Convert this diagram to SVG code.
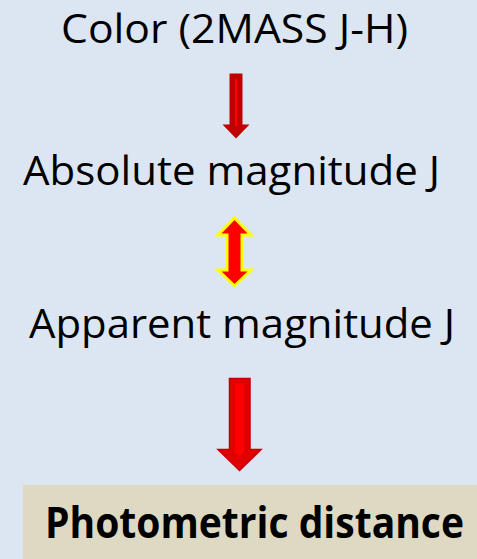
<svg xmlns="http://www.w3.org/2000/svg" width="477" height="559" viewBox="0 0 477 559">
<style>
.t{font-family:"Open Sans","Liberation Sans",sans-serif;font-size:40px;fill:#000}
.b{font-family:"Open Sans","Liberation Sans",sans-serif;font-size:43px;font-weight:bold;fill:#000}
</style>
<rect width="477" height="559" fill="#dce6f2"/>
<g id="color"><text class="t" x="61" y="43" textLength="347" lengthAdjust="spacingAndGlyphs">Color (2MASS J-H)</text></g>
<g id="absolute"><text class="t" x="23" y="185" textLength="417" lengthAdjust="spacingAndGlyphs">Absolute magnitude J</text></g>
<g id="apparent"><text class="t" x="29" y="338" textLength="426" lengthAdjust="spacingAndGlyphs">Apparent magnitude J</text></g>
<g id="distance">
<rect x="23" y="485" width="454" height="74" fill="#ddd9c3"/>
<text class="b" x="45" y="538" textLength="419" lengthAdjust="spacingAndGlyphs">Photometric distance</text>
</g>
<g id="connectors">
<polygon points="229.5,73.5 242.5,73.5 242.5,124.5 249.5,124.5 236,138.5 222.5,124.5 229.5,124.5" fill="#c00000"/>
<line x1="236" y1="79" x2="236" y2="126" stroke="#ff0000" stroke-width="2"/>
<polygon points="234.5,218 251,235 242,235 242,270 251,270 234.5,286 218,270 227,270 227,235 218,235" fill="#ff0000" stroke="#ffff00" stroke-width="3" stroke-linejoin="miter"/>
<polygon points="229.5,378.5 250,378.5 250,449.5 261,449.5 239.5,470.5 218,449.5 229.5,449.5" fill="#e00000" stroke="#c00000" stroke-width="1.5"/>
<polygon points="235,383.5 244,383.5 244,452 239.5,457 235,452" fill="#ff0000"/>
</g>
</svg>
